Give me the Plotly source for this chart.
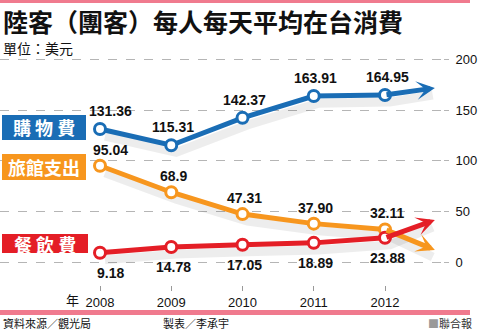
import plotly.graph_objects as go

years = [2008, 2009, 2010, 2011, 2012]
shopping = [131.36, 115.31, 142.37, 163.91, 164.95]
hotel = [95.04, 68.9, 47.31, 37.90, 32.11]
food = [9.18, 14.78, 17.05, 18.89, 23.88]
shopping_lbl = ["131.36", "115.31", "142.37", "163.91", "164.95"]
hotel_lbl = ["95.04", "68.9", "47.31", "37.90", "32.11"]
food_lbl = ["9.18", "14.78", "17.05", "18.89", "23.88"]
# arrow tips (trend continuation)
arrow_x = 2012.7
shopping_arrow = 171.9
hotel_arrow = 11.9
food_arrow = 41.5
ytick_vals = [0, 50, 100, 150, 200]
xtick_vals = [2008, 2009, 2010, 2011, 2012]

BLUE = "#1a6db5"
ORANGE = "#f7961e"
RED = "#e41e26"
PINK = "#f07a8e"
CJK = "Noto Sans CJK TC"
LAT = "Liberation Sans, Arial"

W, H = 500, 332
ML, MR, MT, MB = 0, 57, 55, 47
PW, PH = W - ML - MR, H - MT - MB


def px(x, y):
    return (x - ML) / PW, (H - MB - y) / PH


fig = go.Figure()

series = [
    (shopping, shopping_lbl, BLUE, shopping_arrow, 18),
    (hotel, hotel_lbl, ORANGE, hotel_arrow, 16),
    (food, food_lbl, RED, food_arrow, -20),
]

# soft shadows
for vals, _, col, tip, _ in series:
    fig.add_trace(go.Scatter(x=[v + 0.07 for v in years + [arrow_x - 0.1]],
                             y=[v - 7 for v in vals + [tip]],
                             mode="lines", line=dict(color="rgba(0,0,0,0.07)", width=9),
                             hoverinfo="skip", showlegend=False))

annotations = []
for vals, lbls, col, tip, ys in series:
    annotations.append(dict(x=arrow_x, y=tip, ax=years[-1], ay=vals[-1],
                            xref="x", yref="y", axref="x", ayref="y",
                            showarrow=True, arrowhead=3, arrowsize=0.62,
                            arrowwidth=5, arrowcolor=col, text=""))
for vals, lbls, col, tip, ys in series:
    fig.add_trace(go.Scatter(x=years, y=vals, mode="lines+markers",
                             line=dict(color=col, width=5),
                             marker=dict(size=11, color="white", line=dict(color=col, width=3)),
                             hoverinfo="skip", showlegend=False))
    for i, (xv, yv, lb) in enumerate(zip(years, vals, lbls)):
        annotations.append(dict(x=xv, y=yv, xref="x", yref="y", text="<b>%s</b>" % lb,
                                showarrow=False, yshift=ys, xshift=(10 if i == 0 else 2),
                                font=dict(family=LAT, size=14, color="#111")))

shapes = []
# pink bars
x0, y0 = px(0, 0); x1, y1 = px(470, 3)
shapes.append(dict(type="rect", xref="paper", yref="paper", x0=x0, y0=y0, x1=x1, y1=y1,
                   fillcolor=PINK, line=dict(width=0)))
x0, y0 = px(0, 310); x1, y1 = px(470, 315)
shapes.append(dict(type="rect", xref="paper", yref="paper", x0=x0, y0=y0, x1=x1, y1=y1,
                   fillcolor=PINK, line=dict(width=0)))

# label boxes
boxes = [("購 物 費", BLUE, 2, 115, 86, 140),
         ("旅館支出", ORANGE, 2, 154, 86, 180),
         ("餐 飲 費", RED, 2, 234, 88, 253)]
for txt, col, bx0, by0, bx1, by1 in boxes:
    a0, b0 = px(bx0, by1); a1, b1 = px(bx1, by0)
    shapes.append(dict(type="rect", xref="paper", yref="paper", x0=a0, y0=b0, x1=a1, y1=b1,
                       fillcolor=col, line=dict(width=0)))
    cx, cy = px((bx0 + bx1) / 2, (by0 + by1) / 2)
    annotations.append(dict(x=cx, y=cy, xref="paper", yref="paper", text="<b>%s</b>" % txt,
                            showarrow=False, xanchor="center", yanchor="middle",
                            font=dict(family=CJK, size=18, color="white")))

def text_at(x, y, t, size, anchor="left", color="#111", family=CJK):
    a, b = px(x, y)
    annotations.append(dict(x=a, y=b, xref="paper", yref="paper", text=t, showarrow=False,
                            xanchor=anchor, yanchor="middle", borderpad=0,
                            font=dict(family=family, size=size, color=color)))

text_at(2, 21, "<b>陸客（團客）每人每天平均在台消費</b>", 25)
text_at(2, 48, "單位：美元", 14)
text_at(80, 299, "年", 13, anchor="right")
text_at(2, 323, "資料來源／觀光局", 11)
text_at(162, 323, "製表／李承宇", 11)
text_at(473, 323, "<span style='color:#999'>■</span>聯合報", 11, anchor="right", color="#333")

fig.update_layout(
    width=W, height=H, margin=dict(l=ML, r=MR, t=MT, b=MB),
    paper_bgcolor="white", plot_bgcolor="white",
    shapes=shapes, annotations=annotations,
    xaxis=dict(range=[2008 - 100 / 71.25, 2012 + (PW - 385) / 71.25],
               tickvals=xtick_vals, ticktext=[str(v) for v in xtick_vals],
               showgrid=False, zeroline=False, showline=False,
               ticks="outside", ticklen=5, tickcolor="#999", tickwidth=1,
               tickfont=dict(family=LAT, size=13, color="#111"), fixedrange=True),
    yaxis=dict(range=[-(H - MB - 262) / 1.0125, (262 - MT) / 1.0125],
               tickvals=ytick_vals, side="right",
               showgrid=True, gridcolor="#b5b5b5", griddash="dash", gridwidth=1,
               zeroline=False, showline=False, ticks="outside", ticklen=5, tickcolor="#b5b5b5",
               ticklabelstandoff=4,
               tickfont=dict(family=LAT, size=13, color="#111"), fixedrange=True),
)

fig.write_html("out.html")
